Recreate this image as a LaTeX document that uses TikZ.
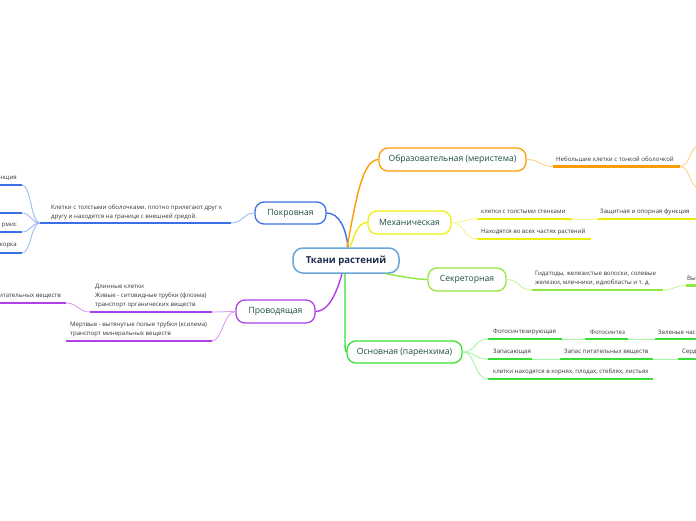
\documentclass[tikz,border=0pt]{standalone}
\usepackage{fontspec}
\setmainfont{Open Sans}
\definecolor{cblue}{HTML}{3B6FE8}
\definecolor{cbluel}{HTML}{9DB8F5}
\definecolor{corange}{HTML}{FF9C00}
\definecolor{corangel}{HTML}{FDD08C}
\definecolor{cyellow}{HTML}{EEEE10}
\definecolor{cyellowl}{HTML}{F5F590}
\definecolor{clgreen}{HTML}{8EE83E}
\definecolor{clgreenl}{HTML}{C8F5A0}
\definecolor{cgreen}{HTML}{36E036}
\definecolor{cgreenl}{HTML}{A4F5A4}
\definecolor{cpurple}{HTML}{B040E8}
\definecolor{cpurplel}{HTML}{DA9EF5}
\definecolor{ccenter}{HTML}{6AA6DC}
\definecolor{centertext}{HTML}{1D2B4F}
\definecolor{nodetext}{HTML}{1B4D3E}
\definecolor{lbltext}{HTML}{333333}
\begin{document}
\begin{tikzpicture}[x=1pt,y=-1pt,
  topic/.style={draw, line width=1.3pt, rounded corners=9pt, fill=white, inner sep=0pt,
    minimum height=23pt, font=\fontsize{8.6}{10}\selectfont, text=nodetext},
  lbl/.style={anchor=west, inner sep=0pt, align=left, font=\fontsize{6.1}{9}\selectfont, text=lbltext},
  lble/.style={lbl, anchor=east},
  uline/.style={line width=2.2pt},
  conn/.style={line width=0.9pt},
  mainconn/.style={line width=1.4pt}]
\useasboundingbox (0,0) rectangle (696,520);

% ---------- nodes ----------
\node[draw=ccenter, line width=1.5pt, rounded corners=10pt, fill=white, inner sep=0pt,
  minimum width=106pt, minimum height=25pt, text=centertext,
  font=\fontsize{9.6}{11}\selectfont\bfseries] (center) at (346,260.5) {Ткани растений};
\node[topic, draw=cblue, minimum width=71pt, minimum height=22pt] (pokr) at (290.5,213) {Покровная};
\node[topic, draw=corange, minimum width=147pt] (obraz) at (452.5,159.5) {Образовательная (меристема)};
\node[topic, draw=cyellow, minimum width=83pt] (mech) at (409.5,222.5) {Механическая};
\node[topic, draw=clgreen, minimum width=78pt] (sekr) at (467,279.5) {Секреторная};
\node[topic, draw=cgreen, minimum width=115pt, minimum height=22pt] (osn) at (404.5,352) {Основная (паренхима)};
\node[topic, draw=cpurple, minimum width=79pt] (prov) at (275.5,311.5) {Проводящая};

% ---------- main connectors ----------
\draw[mainconn, cblue] ([xshift=2pt]center.north) .. controls (346,228) and (339,213) .. (pokr.east);
\draw[mainconn, corange] ([xshift=1pt]center.north) .. controls (356,200) and (362,160) .. (obraz.west);
\draw[mainconn, cyellow] ([xshift=4pt]center.north) .. controls (355,234) and (358,222.5) .. (mech.west);
\draw[mainconn, clgreen] ([xshift=-14pt]center.south east) .. controls (400,276) and (415,279.5) .. (sekr.west);
\draw[mainconn, cgreen] ([xshift=-1pt]center.south) -- (345,344) .. controls (345,350) and (346,352) .. (osn.west);
\draw[mainconn, cpurple] ([xshift=-4pt]center.south) .. controls (336,295) and (328,311.5) .. (prov.east);

% ---------- Покровная ----------
\coordinate (p1r) at (231,223); \coordinate (p1l) at (40,223);
\draw[conn, cbluel] (pokr.west) .. controls (243,213) and (243,223) .. (p1r);
\draw[uline, cblue] (p1r) -- (p1l);
\node[lbl] (ptext) at (51,212.5) {Клетки с толстыми оболочками, плотно прилегают друг к\\другу и находятся на границе с внешней средой.};
\foreach \n/\yy in {a/185, b/213, c/232, d/253}{
  \coordinate (q\n r) at (22,\yy); \coordinate (q\n l) at (-3,\yy);
  \draw[conn, cbluel] (p1l) .. controls (31,223) and (31,\yy) .. (q\n r);
  \draw[uline, cblue] (q\n r) -- (q\n l);
}
\node[lble] (qta) at (17,178) {нкция};
\node[lble] (qtc) at (17,226) {рмис};
\node[lble] (qtd) at (17,246) {корка};

% ---------- Образовательная ----------
\coordinate (o1l) at (553,166.5); \coordinate (o1r) at (680,166.5);
\draw[conn, corangel] (obraz.east) .. controls (540,159.5) and (540,166.5) .. (o1l);
\draw[uline, corange] (o1l) -- (o1r);
\node[lbl] (otext) at (556,159) {Небольшие клетки с тонкой оболочкой};
\coordinate (o2) at (699,146); \coordinate (o3) at (699,188);
\draw[conn, corangel] (o1r) .. controls (690,166.5) and (690,146) .. (o2);
\draw[conn, corangel] (o1r) .. controls (690,166.5) and (690,188) .. (o3);

% ---------- Механическая ----------
\coordinate (m1l) at (477,219); \coordinate (m1r) at (572,219);
\coordinate (m2l) at (597,219); \coordinate (m2r) at (698,219);
\coordinate (m3l) at (477,239); \coordinate (m3r) at (591,239);
\draw[conn, cyellowl] (mech.east) .. controls (465,222.5) and (463,219) .. (m1l);
\draw[conn, cyellowl] (mech.east) .. controls (465,222.5) and (463,239) .. (m3l);
\draw[uline, cyellow] (m1l) -- (m1r);
\draw[conn, cyellowl] (m1r) -- (m2l);
\draw[uline, cyellow] (m2l) -- (m2r);
\draw[uline, cyellow] (m3l) -- (m3r);
\node[lbl] (mt1) at (481,212) {клетки с толстыми стенками};
\node[lbl] (mt2) at (600,212) {Защитная и опорная функция};
\node[lbl] (mt3) at (481,231.5) {Находятся во всех частях растений};

% ---------- Секреторная ----------
\coordinate (s1l) at (532,290); \coordinate (s1r) at (663,290);
\coordinate (s2l) at (686,285.5); \coordinate (s2r) at (699,285.5);
\draw[conn, clgreenl] (sekr.east) .. controls (520,279.5) and (518,290) .. (s1l);
\draw[uline, clgreen] (s1l) -- (s1r);
\draw[conn, clgreenl] (s1r) .. controls (675,290) and (674,285.5) .. (s2l);
\draw[uline, clgreen] (s2l) -- (s2r);
\node[lbl] (st1) at (535,278.5) {Гидатоды, железистые волоски, солевые\\железки, млечники, идиобласты и т. д.};
\node[lbl] (st2) at (687,278) {Вы};

% ---------- Основная ----------
\coordinate (a1l) at (488,339); \coordinate (a1r) at (562,339);
\coordinate (a2l) at (585,339); \coordinate (a2r) at (628,339);
\coordinate (a3l) at (655,339); \coordinate (a3r) at (698,339);
\coordinate (b1l) at (488,359); \coordinate (b1r) at (532,359);
\coordinate (b2l) at (560,359); \coordinate (b2r) at (653,359);
\coordinate (b3l) at (678,359); \coordinate (b3r) at (698,359);
\coordinate (c1l) at (488,379); \coordinate (c1r) at (653,379);
\draw[conn, cgreenl] (osn.east) .. controls (476,352) and (474,339) .. (a1l);
\draw[conn, cgreenl] (osn.east) .. controls (476,352) and (474,359) .. (b1l);
\draw[conn, cgreenl] (osn.east) .. controls (476,352) and (474,379) .. (c1l);
\draw[uline, cgreen] (a1l) -- (a1r);
\draw[conn, cgreenl] (a1r) -- (a2l);
\draw[uline, cgreen] (a2l) -- (a2r);
\draw[conn, cgreenl] (a2r) -- (a3l);
\draw[uline, cgreen] (a3l) -- (a3r);
\draw[uline, cgreen] (b1l) -- (b1r);
\draw[conn, cgreenl] (b1r) -- (b2l);
\draw[uline, cgreen] (b2l) -- (b2r);
\draw[conn, cgreenl] (b2r) -- (b3l);
\draw[uline, cgreen] (b3l) -- (b3r);
\draw[uline, cgreen] (c1l) -- (c1r);
\node[lbl] (at1) at (493,332) {Фотосинтезирующая};
\node[lbl] (at2) at (590,332) {Фотосинтез};
\node[lbl] (at3) at (658,332) {Зеленые час};
\node[lbl] (bt1) at (493,352) {Запасающая};
\node[lbl] (bt2) at (564,352) {Запас питательных веществ};
\node[lbl] (bt3) at (682,352) {Серд};
\node[lbl] (ct1) at (493,372) {клетки находятся в корнях, плодах, стеблях, листьях};

% ---------- Проводящая ----------
\coordinate (r1r) at (212,312); \coordinate (r1l) at (90,312);
\coordinate (r2r) at (66,303); \coordinate (r2l) at (-3,303);
\coordinate (r3r) at (212,341); \coordinate (r3l) at (66,341);
\draw[conn, cpurplel] (prov.west) .. controls (225,311.5) and (222,312) .. (r1r);
\draw[uline, cpurple] (r1r) -- (r1l);
\draw[conn, cpurplel] (r1l) .. controls (78,312) and (78,303) .. (r2r);
\draw[uline, cpurple] (r2r) -- (r2l);
\draw[conn, cpurplel] (prov.west) .. controls (224,311.5) and (222,341) .. (r3r);
\draw[uline, cpurple] (r3r) -- (r3l);
\node[lbl] (rt1) at (95,296) {Длинные клетки\\Живые - ситовидные трубки (флоэма)\\транспорт органических веществ};
\node[lble] (rt2) at (61,296) {итательных веществ};
\node[lbl] (rt3) at (70,329) {Мертвые - вытянутые полые трубки (ксилема)\\транспорт минеральных веществ};
\end{tikzpicture}
\end{document}
